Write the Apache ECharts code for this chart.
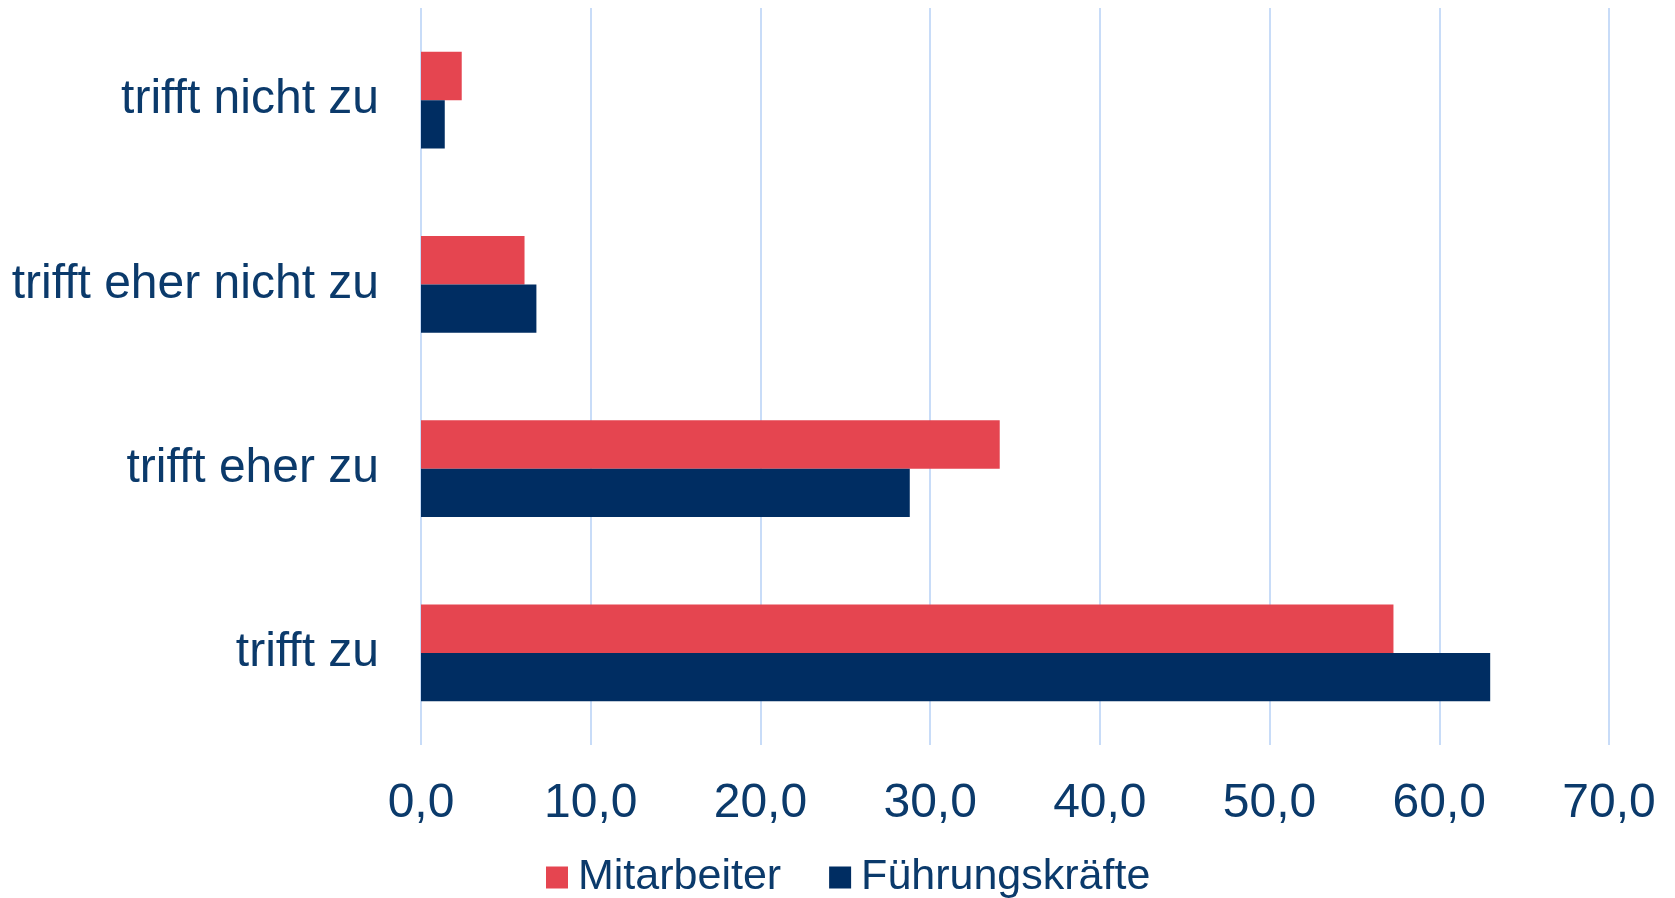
<!DOCTYPE html>
<html>
<head>
<meta charset="utf-8">
<script src="https://cdn.jsdelivr.net/npm/echarts@6/dist/echarts.min.js"></script>
<style>
  html, body { margin: 0; padding: 0; background: #ffffff; }
  #chart { width: 1675px; height: 898px; }
</style>
</head>
<body>
<div id="chart"></div>
<script>
// Answer categories, listed top to bottom
const categories = ['trifft nicht zu', 'trifft eher nicht zu', 'trifft eher zu', 'trifft zu'];

// Shares in percent per group
const mitarbeiter = [2.4, 6.1, 34.1, 57.3];
const fuehrungskraefte = [1.4, 6.8, 28.8, 63.0];

const seriesNames = ['Mitarbeiter', 'Führungskräfte'];

// Value axis ticks
const axisMin = 0;
const axisMax = 70;
const axisStep = 10;

const textColor = '#0B3A6B';
const fontFamily = '"Liberation Sans", Arial, sans-serif';

const chart = echarts.init(document.getElementById('chart'), null, { renderer: 'canvas' });

chart.setOption({
  backgroundColor: '#ffffff',
  animation: false,
  grid: {
    left: 421,
    right: 66,
    top: 8,
    bottom: 153,
    containLabel: false
  },
  legend: {
    data: seriesNames,
    left: 541,
    top: 851,
    itemWidth: 22,
    itemHeight: 22,
    itemGap: 48,
    icon: 'rect',
    textStyle: {
      color: textColor,
      fontSize: 43,
      fontFamily: fontFamily,
      padding: [0, 0, 0, 5]
    }
  },
  xAxis: {
    type: 'value',
    min: axisMin,
    max: axisMax,
    interval: axisStep,
    axisLine: { show: false },
    axisTick: { show: false },
    splitLine: { show: true, lineStyle: { color: '#C8DCF8', width: 2 } },
    axisLabel: {
      color: textColor,
      fontSize: 48,
      fontFamily: fontFamily,
      margin: 35,
      formatter: v => v.toFixed(1).replace('.', ',')
    }
  },
  yAxis: {
    type: 'category',
    data: categories,
    inverse: true,
    axisLine: { show: false },
    axisTick: { show: false },
    axisLabel: {
      color: textColor,
      fontSize: 48,
      fontFamily: fontFamily,
      margin: 42
    }
  },
  series: [
    {
      name: seriesNames[0],
      type: 'bar',
      data: mitarbeiter,
      barGap: '0%',
      barCategoryGap: '47.6%',
      itemStyle: { color: '#E54550' }
    },
    {
      name: seriesNames[1],
      type: 'bar',
      data: fuehrungskraefte,
      barGap: '0%',
      barCategoryGap: '47.6%',
      itemStyle: { color: '#002D62' }
    }
  ]
});
</script>
</body>
</html>
